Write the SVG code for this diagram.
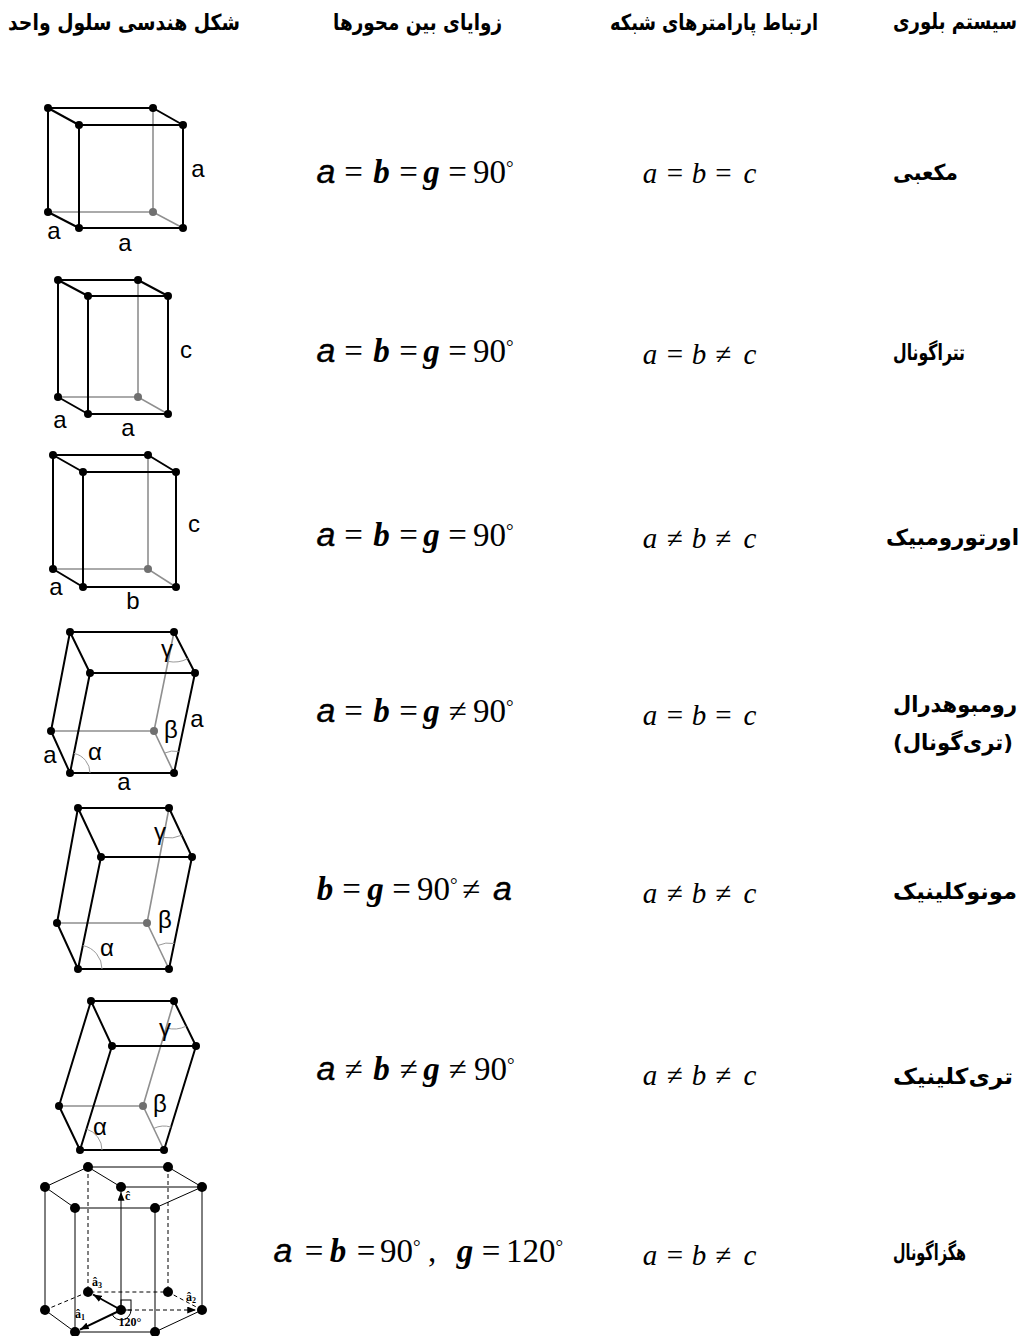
<svg xmlns="http://www.w3.org/2000/svg" width="1024" height="1336" viewBox="0 0 1024 1336">
<defs>
<style>
.e{stroke:#000;stroke-width:2;fill:none;stroke-linecap:round;stroke-linejoin:round}
.gl{stroke:#8f8f8f;stroke-width:1.6;fill:none;stroke-linecap:round}
.arc{stroke:#999;stroke-width:1;fill:none}
.dot{fill:#000}
.dotg{fill:#707070}
.lb{font-family:"Liberation Sans",Arial,sans-serif;font-size:24px;fill:#000;text-anchor:middle}
.fa{font-family:"Liberation Sans",Arial,sans-serif;font-style:italic;font-size:34px;text-anchor:middle;stroke:#000;stroke-width:0.4}
.fb{font-family:"Liberation Serif","Times New Roman",serif;font-style:italic;font-weight:bold;font-size:33px;text-anchor:middle}
.op{font-family:"Liberation Serif","Times New Roman",serif;font-size:33px;text-anchor:middle}
.nm{font-family:"Liberation Serif","Times New Roman",serif;font-size:33px;text-anchor:start}
.li{font-family:"Liberation Serif","Times New Roman",serif;font-style:italic;font-size:29px;text-anchor:middle}
.lo{font-family:"Liberation Serif","Times New Roman",serif;font-size:29px;text-anchor:middle}
.fs{font-family:"DejaVu Sans",sans-serif;font-weight:bold;font-size:22px;fill:#000}
.hx{stroke:#000;stroke-width:1;fill:none}
.hxd{stroke:#000;stroke-width:1;stroke-dasharray:4 3;fill:none}
.hxa{stroke:#000;stroke-width:2;fill:none}
.hl{font-family:"Liberation Serif","Times New Roman",serif;font-size:12px;font-weight:bold;fill:#000}
</style>
<marker id="ah" viewBox="0 0 10 8" refX="10" refY="4" markerWidth="9" markerHeight="7" markerUnits="userSpaceOnUse" orient="auto">
<path d="M0,0 L10,4 L0,8 Z" fill="#000"/>
</marker>
</defs>
<rect width="1024" height="1336" fill="#fff"/>

<g id="header">
<text class="fs" x="8" y="30" textLength="232" lengthAdjust="spacingAndGlyphs">شکل هندسی سلول واحد</text>
<text class="fs" x="333" y="30" textLength="169" lengthAdjust="spacingAndGlyphs">زوایای بین محورها</text>
<text class="fs" x="610" y="30" textLength="208" lengthAdjust="spacingAndGlyphs">ارتباط پارامترهای شبکه</text>
<text class="fs" x="893" y="29" font-size="17" textLength="124" lengthAdjust="spacingAndGlyphs">سیستم بلوری</text>
</g>

<!-- Row 1: cubic -->
<g id="row-cubic">
<g id="fig-cubic">
<path class="gl" d="M153,108 V212 M48,212 H153 L183,228"/>
<path class="e" d="M48,108 H153 L183,125 H79 Z M48,108 V212 L79,228 H183 V125 M79,125 V228"/>
<circle class="dot" cx="48" cy="108" r="4"/><circle class="dot" cx="153" cy="108" r="4"/>
<circle class="dot" cx="79" cy="125" r="4"/><circle class="dot" cx="183" cy="125" r="4"/>
<circle class="dot" cx="48" cy="212" r="4"/><circle class="dotg" cx="153" cy="212" r="4"/>
<circle class="dot" cx="79" cy="228" r="4"/><circle class="dot" cx="183" cy="228" r="4"/>
<text class="lb" x="198" y="177">a</text>
<text class="lb" x="54" y="239">a</text>
<text class="lb" x="125" y="251">a</text>
</g>
<g id="ang-cubic">
<text class="fa" x="326" y="183">a</text><text class="op" x="353.5" y="183">=</text>
<text class="fb" x="381.5" y="183">b</text><text class="op" x="408.5" y="183">=</text>
<text class="fb" x="431.5" y="183">g</text><text class="op" x="457.5" y="183">=</text>
<text class="nm" x="473" y="183">90<tspan font-size="19" dy="-9">°</tspan></text>
</g>
<g id="lat-cubic">
<text class="li" x="650" y="183">a</text><text class="lo" x="675" y="183">=</text>
<text class="li" x="699" y="183">b</text><text class="lo" x="723.5" y="183">=</text>
<text class="li" x="750" y="183">c</text>
</g>
<text class="fs" x="893" y="180" font-size="23" textLength="65" lengthAdjust="spacingAndGlyphs">مکعبی</text>
</g>

<!-- Row 2: tetragonal -->
<g id="row-tetragonal">
<g id="fig-tetragonal">
<path class="gl" d="M138,280 V397 M58,397 H138 L168,414"/>
<path class="e" d="M58,280 H138 L168,296 H88 Z M58,280 V397 L88,414 H168 V296 M88,296 V414"/>
<circle class="dot" cx="58" cy="280" r="4"/><circle class="dot" cx="138" cy="280" r="4"/>
<circle class="dot" cx="88" cy="296" r="4"/><circle class="dot" cx="168" cy="296" r="4"/>
<circle class="dot" cx="58" cy="397" r="4"/><circle class="dotg" cx="138" cy="397" r="4"/>
<circle class="dot" cx="88" cy="414" r="4"/><circle class="dot" cx="168" cy="414" r="4"/>
<text class="lb" x="186" y="358">c</text>
<text class="lb" x="60" y="428">a</text>
<text class="lb" x="128" y="436">a</text>
</g>
<g id="ang-tetragonal">
<text class="fa" x="326" y="362">a</text><text class="op" x="353.5" y="362">=</text>
<text class="fb" x="381.5" y="362">b</text><text class="op" x="408.5" y="362">=</text>
<text class="fb" x="431.5" y="362">g</text><text class="op" x="457.5" y="362">=</text>
<text class="nm" x="473" y="362">90<tspan font-size="19" dy="-9">°</tspan></text>
</g>
<g id="lat-tetragonal">
<text class="li" x="650" y="364">a</text><text class="lo" x="675" y="364">=</text>
<text class="li" x="699" y="364">b</text><text class="lo" x="723.5" y="364">≠</text>
<text class="li" x="750" y="364">c</text>
</g>
<text class="fs" x="893" y="360" font-size="23" textLength="72" lengthAdjust="spacingAndGlyphs">تتراگونال</text>
</g>

<!-- Row 3: orthorhombic -->
<g id="row-orthorhombic">
<g id="fig-orthorhombic">
<path class="gl" d="M148,455 V569 M53,569 H148 L176,587"/>
<path class="e" d="M53,455 H148 L176,472 H83 Z M53,455 V569 L83,587 H176 V472 M83,472 V587" stroke="#333"/>
<circle class="dot" cx="53" cy="455" r="4"/><circle class="dot" cx="148" cy="455" r="4"/>
<circle class="dot" cx="83" cy="472" r="4"/><circle class="dot" cx="176" cy="472" r="4"/>
<circle class="dot" cx="53" cy="569" r="4"/><circle class="dotg" cx="148" cy="569" r="4"/>
<circle class="dot" cx="83" cy="587" r="4"/><circle class="dot" cx="176" cy="587" r="4"/>
<text class="lb" x="194" y="532">c</text>
<text class="lb" x="56" y="595">a</text>
<text class="lb" x="133" y="609">b</text>
</g>
<g id="ang-orthorhombic">
<text class="fa" x="326" y="546">a</text><text class="op" x="353.5" y="546">=</text>
<text class="fb" x="381.5" y="546">b</text><text class="op" x="408.5" y="546">=</text>
<text class="fb" x="431.5" y="546">g</text><text class="op" x="457.5" y="546">=</text>
<text class="nm" x="473" y="546">90<tspan font-size="19" dy="-9">°</tspan></text>
</g>
<g id="lat-orthorhombic">
<text class="li" x="650" y="548">a</text><text class="lo" x="675" y="548">≠</text>
<text class="li" x="699" y="548">b</text><text class="lo" x="723.5" y="548">≠</text>
<text class="li" x="750" y="548">c</text>
</g>
<text class="fs" x="886" y="545" font-size="23" textLength="133" lengthAdjust="spacingAndGlyphs">اورتورومبیک</text>
</g>

<!-- Row 4: rhombohedral -->
<g id="row-rhombohedral">
<g id="fig-rhombohedral">
<path class="gl" d="M174,632 L154,731 M51,731 H154 L174,773"/>
<path class="e" d="M70,632 H174 L195,673 H90 Z M70,632 L51,731 L70,773 H174 L195,673 M90,673 L70,773"/>
<path class="arc" d="M90,773 A20,20 0 0 0 73.9,753.4"/>
<path class="arc" d="M164.5,753.1 A22,22 0 0 1 178.5,751.5"/>
<path class="arc" d="M168,661.4 A30,30 0 0 0 187.7,658.7"/>
<circle class="dot" cx="70" cy="632" r="4"/><circle class="dot" cx="174" cy="632" r="4"/>
<circle class="dot" cx="90" cy="673" r="4"/><circle class="dot" cx="195" cy="673" r="4"/>
<circle class="dot" cx="51" cy="731" r="4"/><circle class="dotg" cx="154" cy="731" r="4"/>
<circle class="dot" cx="70" cy="773" r="4"/><circle class="dot" cx="174" cy="773" r="4"/>
<text class="lb" x="167" y="657">γ</text>
<text class="lb" x="171" y="738">β</text>
<text class="lb" x="197" y="727">a</text>
<text class="lb" x="50" y="763">a</text>
<text class="lb" x="95" y="760">α</text>
<text class="lb" x="124" y="790">a</text>
</g>
<g id="ang-rhombohedral">
<text class="fa" x="326" y="722">a</text><text class="op" x="353.5" y="722">=</text>
<text class="fb" x="381.5" y="722">b</text><text class="op" x="408.5" y="722">=</text>
<text class="fb" x="431.5" y="722">g</text><text class="op" x="457.5" y="722">≠</text>
<text class="nm" x="473" y="722">90<tspan font-size="19" dy="-9">°</tspan></text>
</g>
<g id="lat-rhombohedral">
<text class="li" x="650" y="725">a</text><text class="lo" x="675" y="725">=</text>
<text class="li" x="699" y="725">b</text><text class="lo" x="723.5" y="725">=</text>
<text class="li" x="750" y="725">c</text>
</g>
<text class="fs" x="893" y="712" font-size="23" textLength="124" lengthAdjust="spacingAndGlyphs">رومبوهدرال</text>
<text class="fs" x="893" y="750" font-size="23" textLength="120" lengthAdjust="spacingAndGlyphs">(تری‌گونال)</text>
</g>

<!-- Row 5: monoclinic -->
<g id="row-monoclinic">
<g id="fig-monoclinic">
<path class="gl" d="M169,808 L147,923 M57,923 H147 L169,969"/>
<path class="e" d="M78,808 H169 L192,857 H101 Z M78,808 L57,923 L78,969 H169 L192,857 M101,857 L78,969"/>
<path class="arc" d="M102,969 A24,24 0 0 0 82.8,945.5"/>
<path class="arc" d="M157.8,945.5 A26,26 0 0 1 174.2,943.5"/>
<path class="arc" d="M163.4,837.5 A30,30 0 0 0 181.8,835.2"/>
<circle class="dot" cx="78" cy="808" r="4"/><circle class="dot" cx="169" cy="808" r="4"/>
<circle class="dot" cx="101" cy="857" r="4"/><circle class="dot" cx="192" cy="857" r="4"/>
<circle class="dot" cx="57" cy="923" r="4"/><circle class="dotg" cx="147" cy="923" r="4"/>
<circle class="dot" cx="78" cy="969" r="4"/><circle class="dot" cx="169" cy="969" r="4"/>
<text class="lb" x="160" y="840">γ</text>
<text class="lb" x="165" y="928">β</text>
<text class="lb" x="107" y="956">α</text>
</g>
<g id="ang-monoclinic">
<text class="fb" x="325" y="900">b</text><text class="op" x="351.5" y="900">=</text>
<text class="fb" x="375.5" y="900">g</text><text class="op" x="401.5" y="900">=</text>
<text class="nm" x="417" y="900">90<tspan font-size="19" dy="-9">°</tspan></text>
<text class="op" x="471" y="900">≠</text><text class="fa" x="502.5" y="900">a</text>
</g>
<g id="lat-monoclinic">
<text class="li" x="650" y="903">a</text><text class="lo" x="675" y="903">≠</text>
<text class="li" x="699" y="903">b</text><text class="lo" x="723.5" y="903">≠</text>
<text class="li" x="750" y="903">c</text>
</g>
<text class="fs" x="893" y="899" font-size="23" textLength="124" lengthAdjust="spacingAndGlyphs">مونوکلینیک</text>
</g>

<!-- Row 6: triclinic -->
<g id="row-triclinic">
<g id="fig-triclinic">
<path class="gl" d="M174,1001 L143,1106 M59,1106 H143 L164,1150"/>
<path class="e" d="M91,1001 H174 L196,1046 H112 Z M91,1001 L59,1106 L80,1150 H164 L196,1046 M112,1046 L80,1150"/>
<path class="arc" d="M102,1150 A22,22 0 0 0 86.5,1129"/>
<path class="arc" d="M153.7,1128.4 A24,24 0 0 1 171.1,1127.1"/>
<path class="arc" d="M166.1,1027.9 A28,28 0 0 0 186.3,1026.1"/>
<circle class="dot" cx="91" cy="1001" r="4"/><circle class="dot" cx="174" cy="1001" r="4"/>
<circle class="dot" cx="112" cy="1046" r="4"/><circle class="dot" cx="196" cy="1046" r="4"/>
<circle class="dot" cx="59" cy="1106" r="4"/><circle class="dotg" cx="143" cy="1106" r="4"/>
<circle class="dot" cx="80" cy="1150" r="4"/><circle class="dot" cx="164" cy="1150" r="4"/>
<text class="lb" x="165" y="1036">γ</text>
<text class="lb" x="160" y="1112">β</text>
<text class="lb" x="100" y="1135">α</text>
</g>
<g id="ang-triclinic">
<text class="fa" x="326" y="1080">a</text><text class="op" x="353.5" y="1080">≠</text>
<text class="fb" x="381.5" y="1080">b</text><text class="op" x="408.5" y="1080">≠</text>
<text class="fb" x="431.5" y="1080">g</text><text class="op" x="457.5" y="1080">≠</text>
<text class="nm" x="474" y="1080">90<tspan font-size="19" dy="-9">°</tspan></text>
</g>
<g id="lat-triclinic">
<text class="li" x="650" y="1085">a</text><text class="lo" x="675" y="1085">≠</text>
<text class="li" x="699" y="1085">b</text><text class="lo" x="723.5" y="1085">≠</text>
<text class="li" x="750" y="1085">c</text>
</g>
<text class="fs" x="893" y="1084" font-size="23" textLength="120" lengthAdjust="spacingAndGlyphs">تری‌کلینیک</text>
</g>

<!-- Row 7: hexagonal -->
<g id="row-hexagonal">
<g id="fig-hexagonal">
<path class="hx" d="M88,1167 H168 L202,1187 L155,1208 H75 L45,1187 Z M88,1167 L121,1187 H202"/>
<path class="hx" d="M45,1187 V1310 M75,1208 V1332 M155,1208 V1332 M202,1187 V1310 M202,1310 L155,1332 H75 L45,1310"/>
<path class="hxd" d="M88,1167 V1292 M168,1167 V1292 M45,1310 L88,1292 H168 L202,1310"/>
<path class="hx" d="M121,1310 V1192" marker-end="url(#ah)"/>
<path class="hxd" d="M121,1310 H196" marker-end="url(#ah)"/>
<path class="hxa" d="M121,1310 L93,1294.5" marker-end="url(#ah)"/>
<path class="hxa" d="M121,1310 L80,1329.6" marker-end="url(#ah)"/>
<rect x="121" y="1300" width="10" height="10" class="hx"/>
<path class="hx" d="M112,1314.3 A10,10 0 0 0 131,1310"/>
<circle class="dot" cx="88" cy="1167" r="5"/><circle class="dot" cx="168" cy="1167" r="5"/>
<circle class="dot" cx="202" cy="1187" r="5"/><circle class="dot" cx="155" cy="1208" r="5"/>
<circle class="dot" cx="75" cy="1208" r="5"/><circle class="dot" cx="45" cy="1187" r="5"/>
<circle class="dot" cx="121" cy="1187" r="5"/>
<circle class="dot" cx="88" cy="1292" r="5"/><circle class="dot" cx="168" cy="1292" r="5"/>
<circle class="dot" cx="202" cy="1310" r="5"/><circle class="dot" cx="155" cy="1332" r="5"/>
<circle class="dot" cx="75" cy="1332" r="5"/><circle class="dot" cx="45" cy="1310" r="5"/>
<circle class="dot" cx="121" cy="1310" r="5"/>
<text class="hl" x="125" y="1200">ĉ</text>
<text class="hl" x="92" y="1286">â<tspan font-size="8" dy="2">3</tspan></text>
<text class="hl" x="186" y="1301">â<tspan font-size="8" dy="2">2</tspan></text>
<text class="hl" x="75" y="1318">â<tspan font-size="8" dy="2">1</tspan></text>
<text class="hl" x="130" y="1326" text-anchor="middle" font-size="11">120°</text>
</g>
<g id="ang-hexagonal">
<text class="fa" x="283" y="1262">a</text><text class="op" x="314" y="1262">=</text>
<text class="fb" x="338" y="1262">b</text><text class="op" x="366" y="1262">=</text>
<text class="nm" x="380" y="1262">90<tspan font-size="19" dy="-9">°</tspan></text>
<text class="op" x="432" y="1262">,</text>
<text class="fb" x="465" y="1262">g</text><text class="op" x="491" y="1262">=</text>
<text class="nm" x="506" y="1262" font-size="28">120<tspan font-size="19" dy="-9">°</tspan></text>
</g>
<g id="lat-hexagonal">
<text class="li" x="650" y="1265">a</text><text class="lo" x="675" y="1265">=</text>
<text class="li" x="699" y="1265">b</text><text class="lo" x="723.5" y="1265">≠</text>
<text class="li" x="750" y="1265">c</text>
</g>
<text class="fs" x="893" y="1260" font-size="23" textLength="73" lengthAdjust="spacingAndGlyphs">هگزاگونال</text>
</g>
</svg>
